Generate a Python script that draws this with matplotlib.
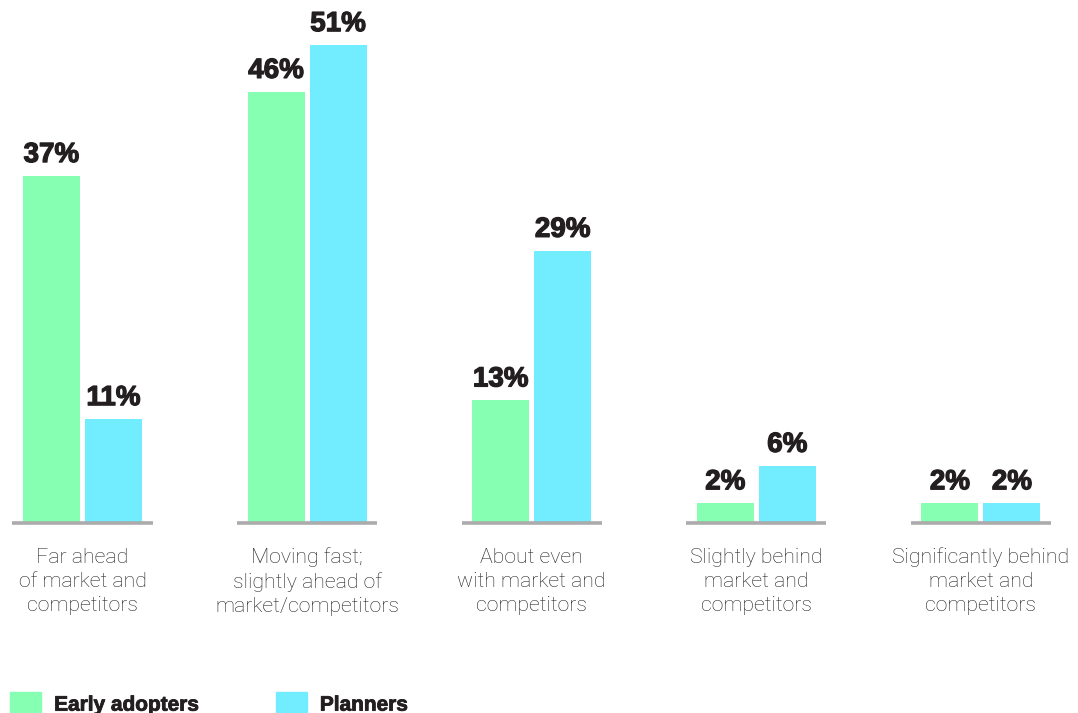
import numpy as np
import matplotlib.pyplot as plt
import matplotlib.patheffects as pe
from matplotlib.patches import Patch

# categories and survey shares (%)
categories = ["Far ahead\nof market and\ncompetitors",
              "Moving fast;\nslightly ahead of\nmarket/competitors",
              "About even\nwith market and\ncompetitors",
              "Slightly behind\nmarket and\ncompetitors",
              "Significantly behind\nmarket and\ncompetitors"]
early_adopters = [37, 46, 13, 2, 2]
planners = [11, 51, 29, 6, 2]
series_names = ["Early adopters", "Planners"]

green = "#86FFB3"
blue = "#72ECFF"
grey = "#ABABAB"
text_col = "#231F20"

plt.rcParams['font.family'] = ['Liberation Sans', 'DejaVu Sans']

fig = plt.figure(figsize=(10.78, 7.13), dpi=100)
ax = fig.add_axes([0, 0, 1, 1])
ax.set_xlim(-0.367, 4.432)
ax.set_ylim(-20.43, 55.83)
ax.axis('off')

x = np.arange(len(categories))
w = 0.254
off = 0.138

b1 = ax.bar(x - off, early_adopters, w, color=green, zorder=2)
b2 = ax.bar(x + off, planners, w, color=blue, zorder=2)

# short baseline under each group
for xi in x:
    ax.plot([xi - 0.312, xi + 0.312], [-0.1, -0.1], color=grey, lw=2.6,
            solid_capstyle='butt', zorder=3)

heavy = [pe.withStroke(linewidth=0.9, foreground=text_col)]

for bars, vals in ((b1, early_adopters), (b2, planners)):
    for b, v in zip(bars, vals):
        ax.annotate(f"{v}%", (b.get_x() + b.get_width() / 2, v),
                    xytext=(0, 14), textcoords='offset pixels',
                    ha='center', va='baseline', fontsize=20,
                    fontweight='bold', color=text_col, path_effects=heavy)

for xi, lab in zip(x, categories):
    ax.text(xi, -2.75, lab, ha='center', va='top', fontsize=15.3,
            color="#222222", linespacing=1.33, family=['Roboto', 'DejaVu Sans'],
            fontweight='light')

handles = [Patch(color=green), Patch(color=blue)]
leg = fig.legend(handles, series_names, loc='lower left',
                 bbox_to_anchor=(10 / 1078, -2 / 713), ncol=2, frameon=False,
                 borderpad=0, borderaxespad=0, handlelength=1.5,
                 handleheight=1.3, handletextpad=0.62, columnspacing=3.65,
                 prop={'size': 15, 'weight': 'bold'})
for t in leg.get_texts():
    t.set_color(text_col)
    t.set_path_effects([pe.withStroke(linewidth=0.6, foreground=text_col)])

fig.savefig("out.png", dpi=100)
